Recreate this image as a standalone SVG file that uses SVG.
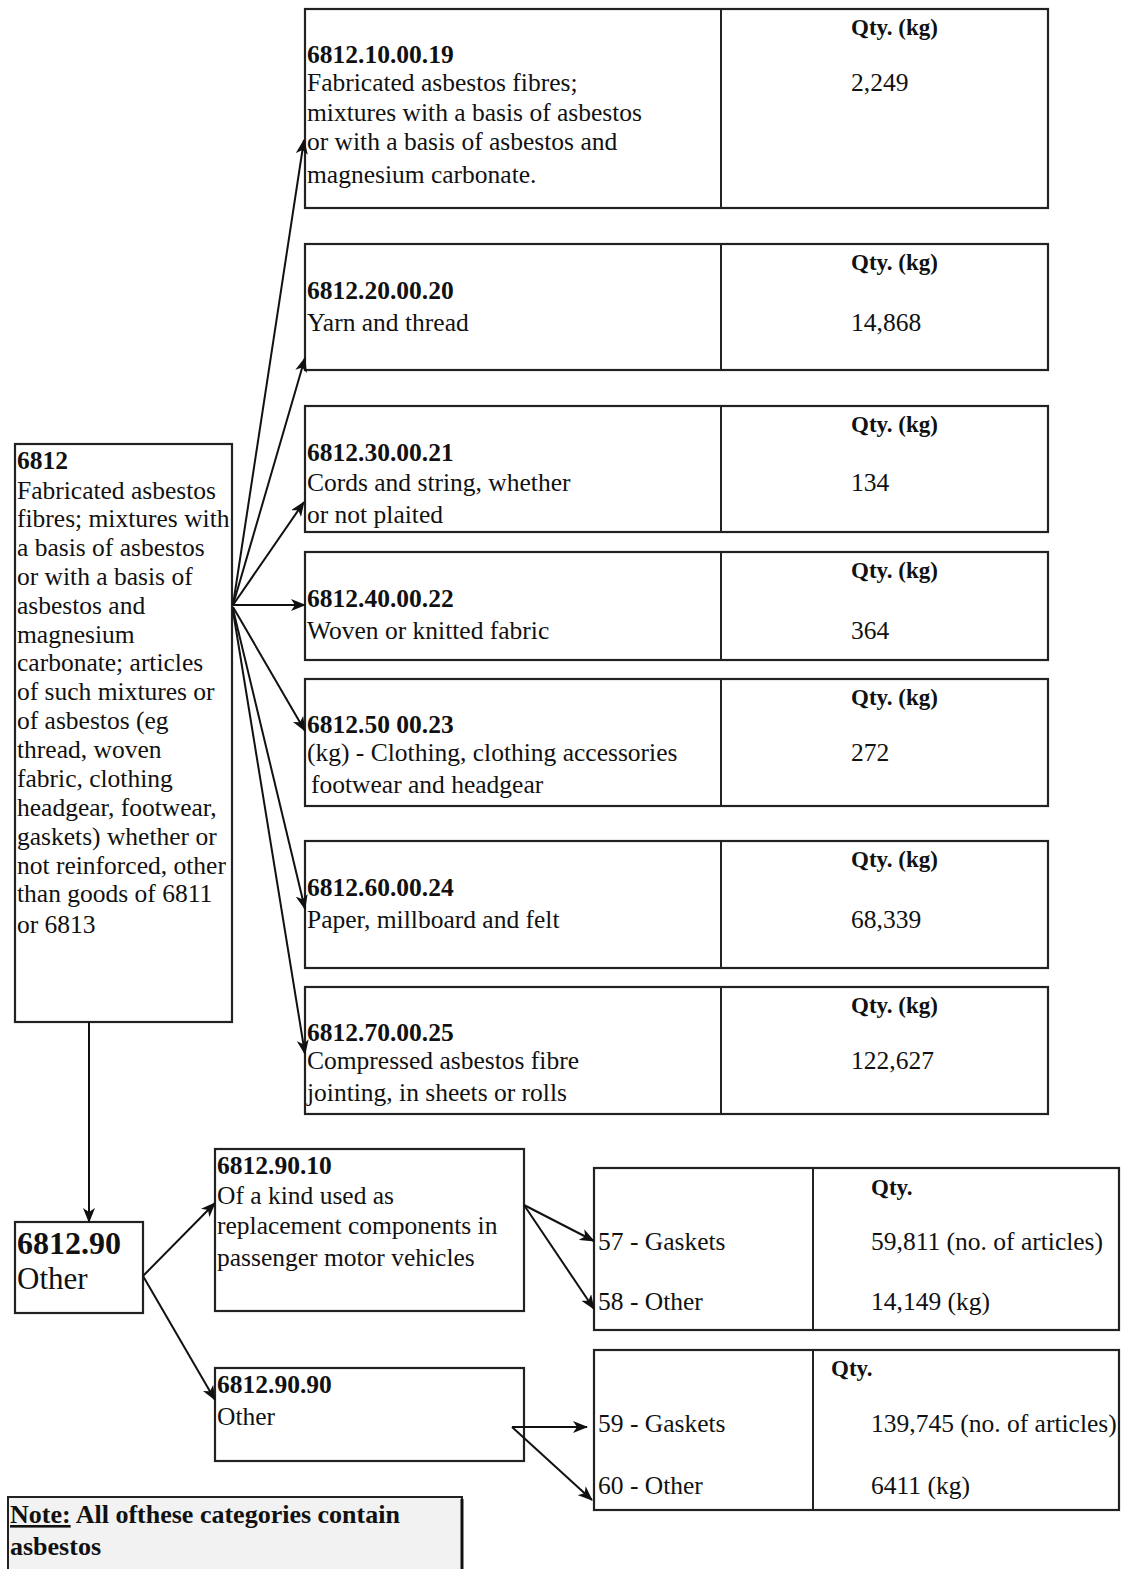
<svg xmlns="http://www.w3.org/2000/svg" width="1129" height="1569" viewBox="0 0 1129 1569">
<defs>
<marker id="ah" markerWidth="16" markerHeight="12" refX="14" refY="6" orient="auto" markerUnits="userSpaceOnUse">
<path d="M0,0 L15,6 L0,12 L4,6 z" fill="#111"/>
</marker>
<style>
.box{fill:#fff;stroke:#222;stroke-width:2.2}
.div{stroke:#222;stroke-width:2}
.t{font-family:"Liberation Serif","Times New Roman",serif;font-size:25.5px;fill:#111}
.b{font-weight:bold}
.q{font-family:"Liberation Serif","Times New Roman",serif;font-size:23px;font-weight:bold;fill:#111}
.c{fill:none;stroke:#111;stroke-width:2;marker-end:url(#ah)}
.l{fill:none;stroke:#111;stroke-width:2}
</style>
</defs>
<rect width="1129" height="1569" fill="#fff"/>

<g id="n6812">
<rect class="box" x="15" y="444" width="217" height="578"/>
<text class="t" x="17">
<tspan class="b" x="17" y="469">6812</tspan>
<tspan x="17" y="499">Fabricated asbestos</tspan>
<tspan x="17" y="527">fibres; mixtures with</tspan>
<tspan x="17" y="556">a basis of asbestos</tspan>
<tspan x="17" y="585">or with a basis of</tspan>
<tspan x="17" y="614">asbestos and</tspan>
<tspan x="17" y="643">magnesium</tspan>
<tspan x="17" y="671">carbonate; articles</tspan>
<tspan x="17" y="700">of such mixtures or</tspan>
<tspan x="17" y="729">of asbestos (eg</tspan>
<tspan x="17" y="758">thread, woven</tspan>
<tspan x="17" y="787">fabric, clothing</tspan>
<tspan x="17" y="816">headgear, footwear,</tspan>
<tspan x="17" y="845">gaskets) whether or</tspan>
<tspan x="17" y="874">not reinforced, other</tspan>
<tspan x="17" y="902">than goods of 6811</tspan>
<tspan x="17" y="933">or 6813</tspan>
</text>
</g>

<g id="n10">
<rect class="box" x="305" y="9" width="743" height="199"/>
<line class="div" x1="721" y1="9" x2="721" y2="208"/>
<text class="t"><tspan class="b" x="307" y="63">6812.10.00.19</tspan><tspan x="307" y="91">Fabricated asbestos fibres;</tspan><tspan x="307" y="121">mixtures with a basis of asbestos</tspan><tspan x="307" y="150">or with a basis of asbestos and</tspan><tspan x="307" y="183">magnesium carbonate.</tspan></text>
<text class="q" x="851" y="35">Qty. (kg)</text>
<text class="t" x="851" y="91">2,249</text>
</g>

<g id="n20">
<rect class="box" x="305" y="244" width="743" height="126"/>
<line class="div" x1="721" y1="244" x2="721" y2="370"/>
<text class="t"><tspan class="b" x="307" y="299">6812.20.00.20</tspan><tspan x="307" y="331">Yarn and thread</tspan></text>
<text class="q" x="851" y="270">Qty. (kg)</text>
<text class="t" x="851" y="331">14,868</text>
</g>

<g id="n30">
<rect class="box" x="305" y="406" width="743" height="126"/>
<line class="div" x1="721" y1="406" x2="721" y2="532"/>
<text class="t"><tspan class="b" x="307" y="461">6812.30.00.21</tspan><tspan x="307" y="491">Cords and string, whether</tspan><tspan x="307" y="523">or not plaited</tspan></text>
<text class="q" x="851" y="432">Qty. (kg)</text>
<text class="t" x="851" y="491">134</text>
</g>

<g id="n40">
<rect class="box" x="305" y="552" width="743" height="108"/>
<line class="div" x1="721" y1="552" x2="721" y2="660"/>
<text class="t"><tspan class="b" x="307" y="607">6812.40.00.22</tspan><tspan x="307" y="639">Woven or knitted fabric</tspan></text>
<text class="q" x="851" y="578">Qty. (kg)</text>
<text class="t" x="851" y="639">364</text>
</g>

<g id="n50">
<rect class="box" x="305" y="679" width="743" height="127"/>
<line class="div" x1="721" y1="679" x2="721" y2="806"/>
<text class="t"><tspan class="b" x="307" y="733">6812.50 00.23</tspan><tspan x="307" y="761">(kg) - Clothing, clothing accessories</tspan><tspan x="311" y="793">footwear and headgear</tspan></text>
<text class="q" x="851" y="705">Qty. (kg)</text>
<text class="t" x="851" y="761">272</text>
</g>

<g id="n60">
<rect class="box" x="305" y="841" width="743" height="127"/>
<line class="div" x1="721" y1="841" x2="721" y2="968"/>
<text class="t"><tspan class="b" x="307" y="896">6812.60.00.24</tspan><tspan x="307" y="928">Paper, millboard and felt</tspan></text>
<text class="q" x="851" y="867">Qty. (kg)</text>
<text class="t" x="851" y="928">68,339</text>
</g>

<g id="n70">
<rect class="box" x="305" y="987" width="743" height="127"/>
<line class="div" x1="721" y1="987" x2="721" y2="1114"/>
<text class="t"><tspan class="b" x="307" y="1041">6812.70.00.25</tspan><tspan x="307" y="1069">Compressed asbestos fibre</tspan><tspan x="307" y="1101">jointing, in sheets or rolls</tspan></text>
<text class="q" x="851" y="1013">Qty. (kg)</text>
<text class="t" x="851" y="1069">122,627</text>
</g>

<g id="n90">
<rect class="box" x="15" y="1222" width="128" height="91"/>
<text class="t" style="font-size:31px"><tspan class="b" x="17" y="1254" style="font-size:32px">6812.90</tspan><tspan x="17" y="1289">Other</tspan></text>
</g>

<g id="n9010">
<rect class="box" x="215" y="1149" width="309" height="162"/>
<text class="t"><tspan class="b" x="217" y="1174">6812.90.10</tspan><tspan x="217" y="1204">Of a kind used as</tspan><tspan x="217" y="1234">replacement components in</tspan><tspan x="217" y="1266">passenger motor vehicles</tspan></text>
</g>

<g id="n9090">
<rect class="box" x="215" y="1368" width="309" height="93"/>
<text class="t"><tspan class="b" x="217" y="1393">6812.90.90</tspan><tspan x="217" y="1425">Other</tspan></text>
</g>

<g id="t1">
<rect class="box" x="594" y="1168" width="525" height="162"/>
<line class="div" x1="813" y1="1168" x2="813" y2="1330"/>
<text class="q" x="871" y="1195">Qty.</text>
<text class="t" x="598" y="1250">57 - Gaskets</text>
<text class="t" x="598" y="1310">58 - Other</text>
<text class="t" x="871" y="1250">59,811 (no. of articles)</text>
<text class="t" x="871" y="1310">14,149 (kg)</text>
</g>

<g id="t2">
<rect class="box" x="594" y="1350" width="525" height="160"/>
<line class="div" x1="813" y1="1350" x2="813" y2="1510"/>
<text class="q" x="831" y="1376">Qty.</text>
<text class="t" x="598" y="1432">59 - Gaskets</text>
<text class="t" x="598" y="1494">60 - Other</text>
<text class="t" x="871" y="1432">139,745 (no. of articles)</text>
<text class="t" x="871" y="1494">6411 (kg)</text>
</g>

<g id="note">
<rect x="8" y="1497" width="454" height="80" fill="#f2f2f2" stroke="#222" stroke-width="2"/>
<line x1="462" y1="1499" x2="462" y2="1569" stroke="#111" stroke-width="3"/>
<text class="t b" x="10" y="1523" style="font-size:26px"><tspan text-decoration="underline">Note:</tspan> All ofthese categories contain</text>
<text class="t b" x="10" y="1555" style="font-size:26px">asbestos</text>
</g>

<g id="connectors">
<path class="c" d="M233,605 L304,140"/>
<path class="c" d="M233,605 L305,358"/>
<path class="c" d="M233,605 L304,502"/>
<path class="c" d="M233,605 L305,605"/>
<path class="c" d="M233,607 L305,731"/>
<path class="c" d="M233,609 L305,909"/>
<path class="c" d="M233,611 L305,1054"/>
<path class="c" d="M89,1022 L89,1222"/>
<path class="c" d="M143,1276 L215,1203"/>
<path class="c" d="M143,1276 L215,1400"/>
<path class="c" d="M524,1205 L594,1241"/>
<path class="c" d="M524,1205 L594,1309"/>
<path class="l" d="M512,1427 L524,1427"/>
<path class="c" d="M512,1427 L587,1427"/>
<path class="c" d="M512,1427 L592,1500"/>
</g>
</svg>
